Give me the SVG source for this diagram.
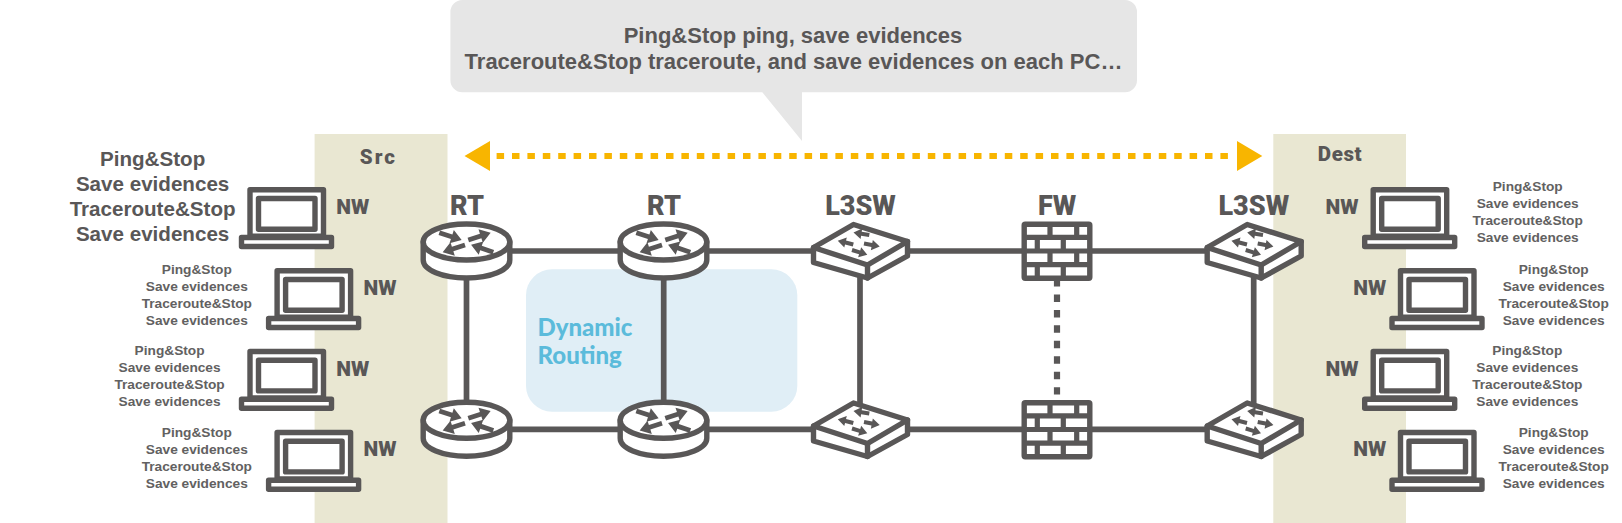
<svg xmlns="http://www.w3.org/2000/svg" xmlns:xlink="http://www.w3.org/1999/xlink" width="1622" height="523" viewBox="0 0 1622 523">
<style>
.ic{fill:#fff;stroke:#595757;stroke-width:5.4;stroke-linejoin:round;stroke-linecap:round}
.ar{fill:#595757;stroke:none}
.ln{fill:none;stroke:#595757;stroke-width:5.7}
.t{font-family:"Liberation Sans",Arial,sans-serif;font-weight:700;fill:#595757;text-anchor:middle}
.big{font-size:20.6px}
.sm{font-size:13.7px;fill:#626161}
.bb{font-size:22px}
.h{font-family:Roboto,"Noto Sans",sans-serif;font-weight:900;fill:#595757;text-anchor:middle}
.nw{font-size:21px}
.nl{font-size:27px}
.bl{font-size:20.5px;letter-spacing:.6px}
.dy{font-family:Lato,"Noto Sans",sans-serif;font-weight:900;font-size:24px;fill:#5BBBDB}
</style>
<defs>
<path id="sa" class="ar" d="M0-2H8V-5.2L16 0 8 5.2V2H0Z"/>
<path id="ra" class="ar" d="M0-2.4H13V-7L23.5 0 13 7V2.4H0Z"/>
<g id="laptop">
<path class="ic" d="M2.5 49V2.5H76V49Z"/>
<rect class="ic" x="11" y="11.2" width="56.5" height="30.7"/>
<rect class="ic" x="-6" y="50.2" width="90" height="9"/>
</g>
<g id="router">
<path class="ic" d="M-43.3 0V18C-43.3 28-24 36 0 36S43.3 28 43.3 18V0Z"/>
<ellipse class="ic" cx="0" cy="0" rx="43.3" ry="18"/>
<use xlink:href="#ra" href="#ra" transform="translate(-27.2 -9.3) rotate(18)"/>
<use xlink:href="#ra" href="#ra" transform="translate(1.8 -2) rotate(-18)"/>
<use xlink:href="#ra" href="#ra" transform="translate(-1.5 3) rotate(162)"/>
<use xlink:href="#ra" href="#ra" transform="translate(26.8 10.3) rotate(199)"/>
</g>
<g id="switch">
<path class="ic" d="M813.5 247.5V262.5L867.5 278 907.5 256V241.5Z" transform="translate(-860 -251)"/>
<path class="ic" d="M867.5 265V278" transform="translate(-860 -251)"/>
<path class="ic" d="M813.5 247.5L853.5 224.5 907.5 241.5 867.5 265Z" transform="translate(-860 -251)"/>
<use xlink:href="#sa" href="#sa" transform="translate(9.3 -16) rotate(189)"/>
<use xlink:href="#sa" href="#sa" transform="translate(-6.7 -6.5) rotate(194)"/>
<use xlink:href="#sa" href="#sa" transform="translate(4 -7.5) rotate(11)"/>
<use xlink:href="#sa" href="#sa" transform="translate(-8 -1) rotate(17)"/>
</g>
<g id="fw">
<rect class="ic" x="-32.8" y="-26.8" width="65.6" height="54.1" rx="1"/>
<path class="ln" style="stroke-width:5.2" d="M-32.8-13.7H32.8M-32.8 0H32.8M-32.8 13.7H32.8M-7-26.8V-13.7M19.7-26.8V-13.7M-19.7-13.7V0M6.3-13.7V0M-7 0V13.7M19.7 0V13.7M-19.7 13.7V27.3M6.3 13.7V27.3"/>
</g>
</defs>

<g id="bands">
<rect x="314.6" y="134" width="132.9" height="389" fill="#E9E7D2"/>
<rect x="1273.3" y="134" width="132.7" height="389" fill="#E9E7D2"/>
</g>

<g id="callout">
<path d="M462.4 0H1125A12 12 0 0 1 1137 12V80.3A12 12 0 0 1 1125 92.3H802V141L762.3 92.3H462.4A12 12 0 0 1 450.4 80.3V12A12 12 0 0 1 462.4 0Z" fill="#E6E6E6"/>
<text class="t bb" x="793" y="43">Ping&amp;Stop ping, save evidences</text>
<text class="t bb" x="793.5" y="68.5">Traceroute&amp;Stop traceroute, and save evidences on each PC…</text>
</g>

<g id="dynamic-routing">
<rect x="526" y="269.3" width="271.3" height="142.4" rx="26" fill="#E0EEF6"/>
<text class="dy" x="537.5" y="335.5">Dynamic</text>
<text class="dy" x="537.5" y="363.5">Routing</text>
</g>

<g id="span-arrow">
<path d="M496.6 156H1230" fill="none" stroke="#F8B500" stroke-width="6" stroke-dasharray="7.5 7.9"/>
<path d="M464.5 156L490 141V171Z" fill="#F8B500"/>
<path d="M1262.3 156L1237 141V171Z" fill="#F8B500"/>
</g>

<g id="connectors">
<path class="ln" d="M466.5 251H1253.7"/>
<path class="ln" d="M466.5 429.3H1253.7"/>
<path class="ln" d="M466.5 260V410"/>
<path class="ln" d="M663.7 260V410"/>
<path class="ln" d="M860 260V410"/>
<path class="ln" d="M1253.7 260V410"/>
<path class="ln" style="stroke-width:6.2;stroke-dasharray:7.5 7.95" d="M1057 279V394.5"/>
</g>

<g id="rt-src-top"><use xlink:href="#router" href="#router" x="466.5" y="242"/><text class="h nl" x="467" y="215">RT</text></g>
<g id="rt-mid-top"><use xlink:href="#router" href="#router" x="663.5" y="242"/><text class="h nl" x="664" y="215">RT</text></g>
<g id="sw-mid-top"><use xlink:href="#switch" href="#switch" x="860" y="251"/><text class="h nl" x="860.5" y="215">L3SW</text></g>
<g id="fw-top"><use xlink:href="#fw" href="#fw" x="1057" y="251"/><text class="h nl" x="1057" y="215">FW</text></g>
<g id="sw-dest-top"><use xlink:href="#switch" href="#switch" x="1253.7" y="251"/><text class="h nl" x="1253.8" y="215">L3SW</text></g>
<g id="rt-src-bottom"><use xlink:href="#router" href="#router" x="466.5" y="420.3"/></g>
<g id="rt-mid-bottom"><use xlink:href="#router" href="#router" x="663.5" y="420.3"/></g>
<g id="sw-mid-bottom"><use xlink:href="#switch" href="#switch" x="860" y="429.5"/></g>
<g id="fw-bottom"><use xlink:href="#fw" href="#fw" x="1057" y="429.5"/></g>
<g id="sw-dest-bottom"><use xlink:href="#switch" href="#switch" x="1253.7" y="429.5"/></g>

<g id="src-label"><text class="h bl" x="378.4" y="164" style="letter-spacing:2px">Src</text></g>
<g id="dest-label"><text class="h bl" x="1340" y="160.7">Dest</text></g>

<g id="pc-src-1"><use xlink:href="#laptop" href="#laptop" x="247.5" y="187.3"/><text class="h nw" x="352.7" y="214.3">NW</text>
<text class="t big" x="152.6"><tspan x="152.6" y="165.7">Ping&amp;Stop</tspan><tspan x="152.6" y="190.7">Save evidences</tspan><tspan x="152.6" y="215.7">Traceroute&amp;Stop</tspan><tspan x="152.6" y="240.7">Save evidences</tspan></text></g>
<g id="pc-src-2"><use xlink:href="#laptop" href="#laptop" x="274.6" y="268.3"/><text class="h nw" x="380" y="294.7">NW</text>
<text class="t sm"><tspan x="196.8" y="274">Ping&amp;Stop</tspan><tspan x="196.8" y="291">Save evidences</tspan><tspan x="196.8" y="308">Traceroute&amp;Stop</tspan><tspan x="196.8" y="325">Save evidences</tspan></text></g>
<g id="pc-src-3"><use xlink:href="#laptop" href="#laptop" x="247.5" y="349"/><text class="h nw" x="352.7" y="375.7">NW</text>
<text class="t sm"><tspan x="169.6" y="355.3">Ping&amp;Stop</tspan><tspan x="169.6" y="372.3">Save evidences</tspan><tspan x="169.6" y="389.3">Traceroute&amp;Stop</tspan><tspan x="169.6" y="406.3">Save evidences</tspan></text></g>
<g id="pc-src-4"><use xlink:href="#laptop" href="#laptop" x="274.6" y="430"/><text class="h nw" x="380" y="456.3">NW</text>
<text class="t sm"><tspan x="196.8" y="437">Ping&amp;Stop</tspan><tspan x="196.8" y="454">Save evidences</tspan><tspan x="196.8" y="471">Traceroute&amp;Stop</tspan><tspan x="196.8" y="488">Save evidences</tspan></text></g>

<g id="pc-dest-1"><use xlink:href="#laptop" href="#laptop" x="1370.7" y="187.3"/><text class="h nw" x="1342" y="214.3">NW</text>
<text class="t sm"><tspan x="1527.7" y="191.3">Ping&amp;Stop</tspan><tspan x="1527.7" y="208.3">Save evidences</tspan><tspan x="1527.7" y="225.3">Traceroute&amp;Stop</tspan><tspan x="1527.7" y="242.3">Save evidences</tspan></text></g>
<g id="pc-dest-2"><use xlink:href="#laptop" href="#laptop" x="1398" y="268.3"/><text class="h nw" x="1369.7" y="294.7">NW</text>
<text class="t sm"><tspan x="1553.7" y="274">Ping&amp;Stop</tspan><tspan x="1553.7" y="291">Save evidences</tspan><tspan x="1553.7" y="308">Traceroute&amp;Stop</tspan><tspan x="1553.7" y="325">Save evidences</tspan></text></g>
<g id="pc-dest-3"><use xlink:href="#laptop" href="#laptop" x="1370.7" y="349"/><text class="h nw" x="1342" y="375.7">NW</text>
<text class="t sm"><tspan x="1527.3" y="355.3">Ping&amp;Stop</tspan><tspan x="1527.3" y="372.3">Save evidences</tspan><tspan x="1527.3" y="389.3">Traceroute&amp;Stop</tspan><tspan x="1527.3" y="406.3">Save evidences</tspan></text></g>
<g id="pc-dest-4"><use xlink:href="#laptop" href="#laptop" x="1398" y="430"/><text class="h nw" x="1369.7" y="456.3">NW</text>
<text class="t sm"><tspan x="1553.7" y="437">Ping&amp;Stop</tspan><tspan x="1553.7" y="454">Save evidences</tspan><tspan x="1553.7" y="471">Traceroute&amp;Stop</tspan><tspan x="1553.7" y="488">Save evidences</tspan></text></g>
</svg>
